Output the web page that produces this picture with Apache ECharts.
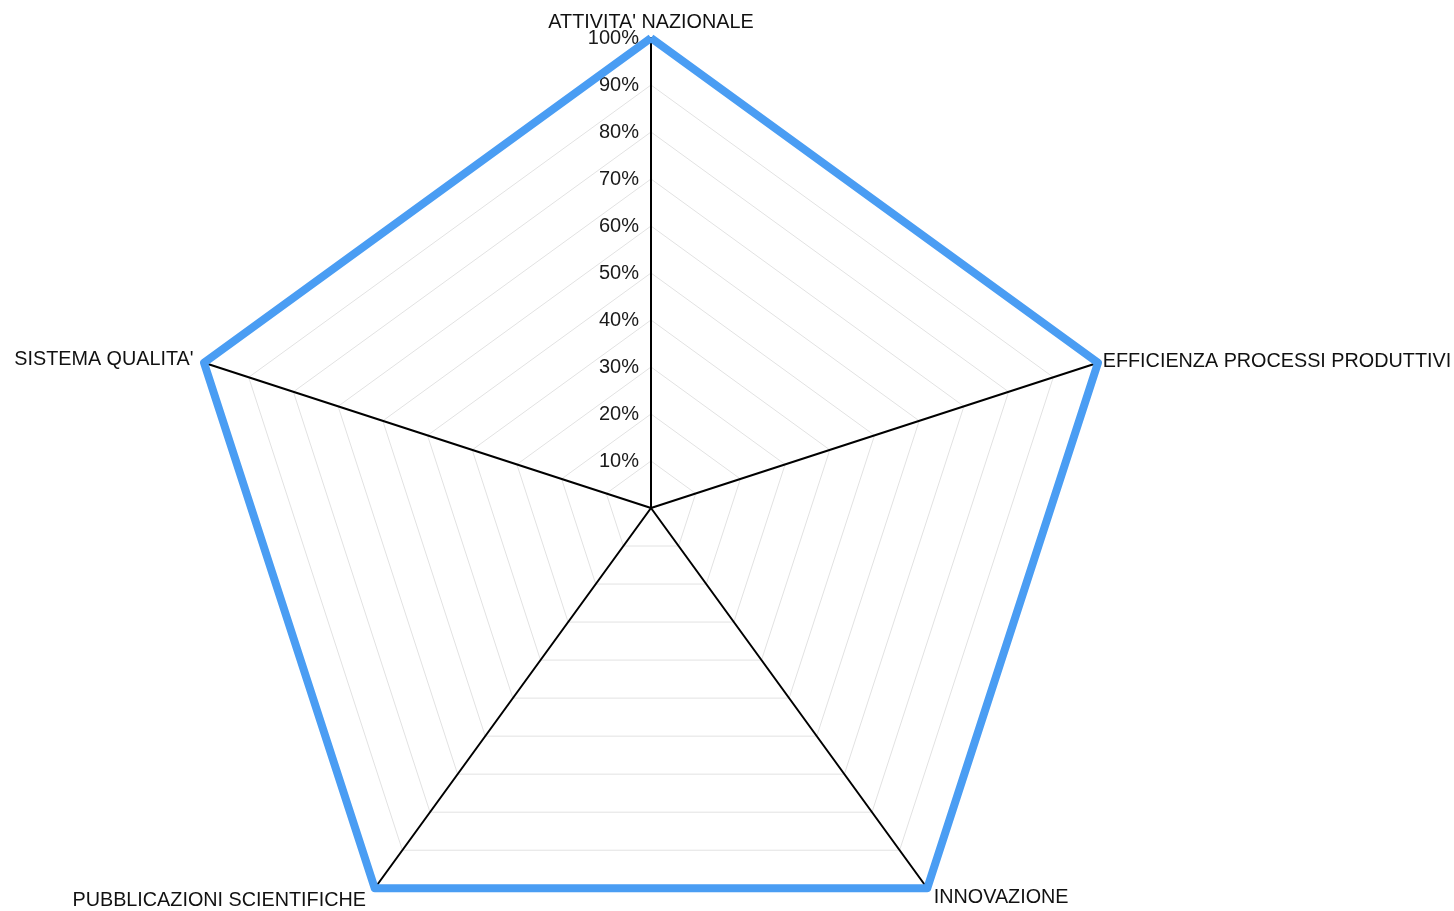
<!DOCTYPE html>
<html>
<head>
<meta charset="utf-8">
<title>Radar</title>
<script src="https://cdn.jsdelivr.net/npm/echarts@6/dist/echarts.min.js"></script>
<style>
  html, body { margin: 0; padding: 0; background: #fff; }
  #main { width: 1454px; height: 911px; }
</style>
</head>
<body>
<div id="main"></div>
<script>
// categorie, in ordine antiorario partendo dall'alto (come disegna il radar)
var categories = ["ATTIVITA' NAZIONALE", "SISTEMA QUALITA'", 'PUBBLICAZIONI SCIENTIFICHE', 'INNOVAZIONE', 'EFFICIENZA PROCESSI PRODUTTIVI'];
var values = [100, 100, 100, 100, 100];
var maxValue = 100;
var tickStep = 10;

// distanza del nome dal vertice, per asse
var nameGaps = [5, 11, 15, 11, 5];

var chart = echarts.init(document.getElementById('main'));

// solo il primo asse (verticale) mostra le etichette percentuali
var indicators = categories.map(function (name, i) {
  return {
    name: name,
    min: 0,
    max: maxValue,
    nameGap: nameGaps[i],
    nameMoveOverlap: false,
    axisLabel: { show: i === 0 }
  };
});

chart.setOption({
  animation: false,
  radar: {
    center: [651, 508],
    radius: 470,
    startAngle: 90,
    splitNumber: maxValue / tickStep,
    shape: 'polygon',
    axisName: {
      color: '#111',
      fontSize: 19.8,
      fontFamily: 'Liberation Sans'
    },
    axisLine: { lineStyle: { color: '#000', width: 2 } },
    axisTick: { show: false },
    axisLabel: {
      color: '#1a1a1a',
      fontSize: 20,
      fontFamily: 'Liberation Sans',
      margin: 12,
      showMinLabel: false,
      formatter: function (v) { return v === 0 ? '' : v + '%'; }
    },
    splitLine: { lineStyle: { color: '#e2e2e2', width: 1 } },
    splitArea: { show: false },
    indicator: indicators
  },
  series: [{
    type: 'radar',
    symbol: 'none',
    z: 1,
    lineStyle: { color: '#4a9df3', width: 8, join: 'round' },
    data: [{ value: values }]
  }]
});
</script>
</body>
</html>
